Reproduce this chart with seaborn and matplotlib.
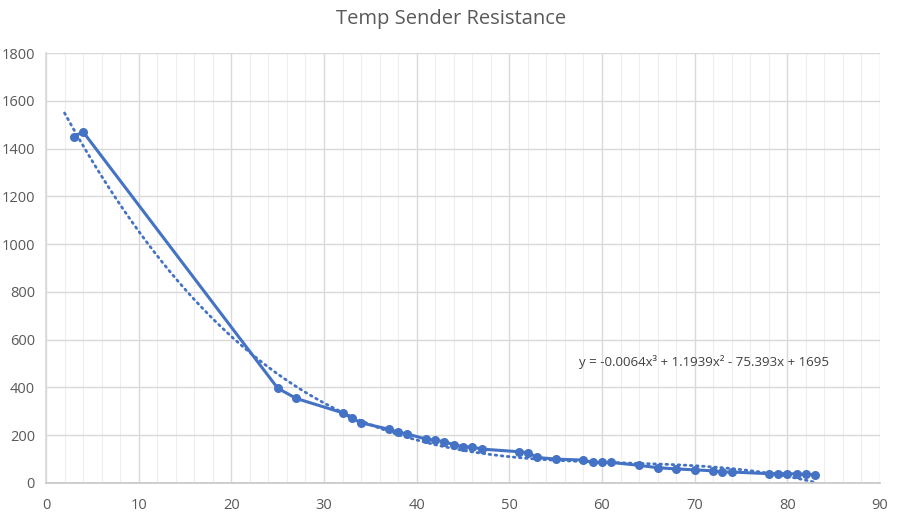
import numpy as np
import pandas as pd
import matplotlib
matplotlib.use("Agg")
import matplotlib.pyplot as plt
import seaborn as sns
from matplotlib.ticker import MultipleLocator

temp = [3, 4, 25, 27, 32, 33, 34, 37, 38, 39, 41, 42, 43, 44, 45, 46, 47,
        51, 52, 53, 55, 58, 59, 60, 61, 64, 66, 68, 70, 72, 73, 74,
        78, 79, 80, 81, 82, 83]
resistance = [1450, 1470, 397, 354, 294, 271, 252, 225, 213, 205, 184, 179, 173, 160, 152, 151, 142,
              131, 127, 107, 100, 96, 86, 86, 86, 74, 64, 59, 55, 51, 46, 46,
              39, 39, 39, 38, 36, 35]
trend_coefs = [-0.0064, 1.1939, -75.393, 1695]
trend_range = [2, 83]
title = "Temp Sender Resistance"
eq_label = "y = -0.0064x³ + 1.1939x² - 75.393x + 1695"

sns.set_theme(style="white")
plt.rcParams['font.family'] = ['Open Sans', 'DejaVu Sans']

fig = plt.figure(figsize=(9.03, 5.2), dpi=100)
ax = fig.add_axes([46/903, 1-483/520, 834/903, 430/520])

blue = "#4472C4"
df = pd.DataFrame({"Temp": temp, "Resistance": resistance})

tx = np.linspace(trend_range[0], trend_range[1], 300)
ty = np.polyval(trend_coefs, tx)
sns.lineplot(x=tx, y=ty, ax=ax, color=blue, linewidth=2.0, linestyle=(0, (0.6, 1.6)),
             dash_capstyle="round", zorder=2)
sns.lineplot(data=df, x="Temp", y="Resistance", ax=ax, color=blue, linewidth=2.2,
             marker="o", markersize=6.5, markeredgewidth=0, zorder=3)

ax.set_xlim(0, 90)
ax.set_ylim(0, 1800)
ax.xaxis.set_major_locator(MultipleLocator(10))
ax.xaxis.set_minor_locator(MultipleLocator(2))
ax.yaxis.set_major_locator(MultipleLocator(200))
ax.grid(which="major", axis="both", color="#d9d9d9", linewidth=1.0)
ax.grid(which="minor", axis="x", color="#eeeeee", linewidth=0.8)
ax.set_axisbelow(True)
for s in ["top", "right"]:
    ax.spines[s].set_visible(False)
ax.spines["left"].set_color("#d9d9d9")
ax.spines["bottom"].set_color("#c8c8c8")
ax.tick_params(axis="both", which="both", length=0, labelsize=10.5, labelcolor="#595959")
ax.tick_params(axis="x", pad=11)
ax.tick_params(axis="y", pad=8)
ax.set_xlabel("")
ax.set_ylabel("")

ax.text(57.5, 505, eq_label, fontsize=9.5, color="#404040", va="center", ha="left")
fig.text(0.5, 1-19/520, title, ha="center", va="center", fontsize=14.5, color="#595959")

fig.savefig("out.png", dpi=100)
